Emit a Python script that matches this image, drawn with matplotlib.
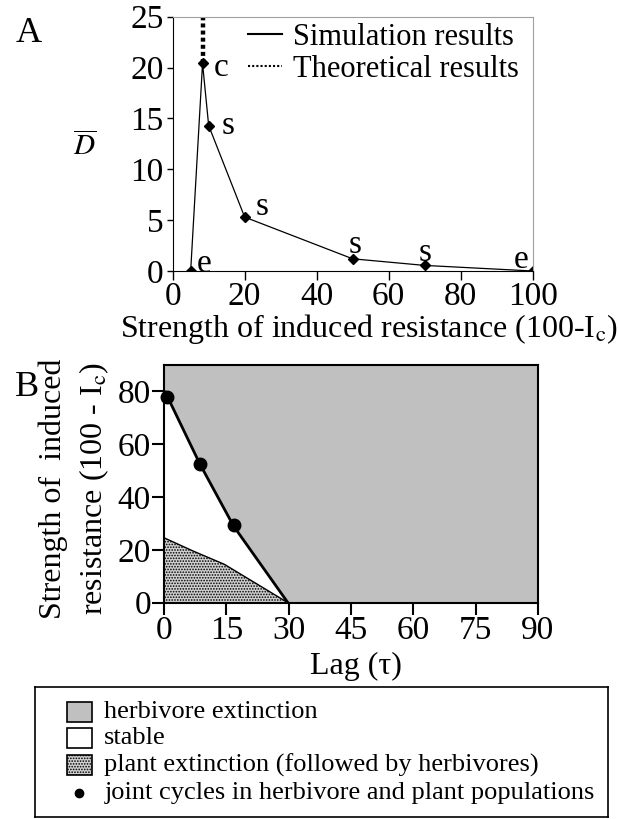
import matplotlib
matplotlib.use("Agg")
import matplotlib.pyplot as plt
from matplotlib.patches import Rectangle
from matplotlib.lines import Line2D

plt.rcParams["font.family"] = ["Liberation Serif", "DejaVu Serif"]
plt.rcParams["mathtext.fontset"] = "stix"
plt.rcParams["hatch.linewidth"] = 0.8

# Panel A: mean D vs strength of induced resistance
strength = [5, 8.3, 10, 20, 50, 70, 100]
d_mean = [0, 20.4, 14.3, 5.3, 1.2, 0.55, 0]
point_labels = ["e", "c", "s", "s", "s", "s", "e"]
theory_x = [8.3, 8.3]
theory_y = [20.4, 25]

# Panel B: region boundaries in (lag, strength) space
upper_lag = [0, 0.8, 8.6, 16.7, 29.8]
upper_str = [80, 77.8, 52.4, 29, 0]
lower_lag = [0, 7, 14.5, 29.8]
lower_str = [24.5, 19.5, 14.5, 0]
cycle_lag = [0.75, 8.6, 16.7]
cycle_str = [77.8, 52.4, 29.3]

legend_labels = ["herbivore extinction", "stable",
                 "plant extinction (followed by herbivores)",
                 "joint cycles in herbivore and plant populations"]

GRAY = "#c0c0c0"

fig = plt.figure(figsize=(6.18, 8.19), dpi=100)

# ---------- A ----------
ax = fig.add_axes([0.2794, 0.6691, 0.5825, 0.3105])
ax.plot(strength, d_mean, color="black", lw=0.9, marker="D", ms=5)
ax.plot(theory_x, theory_y, color="black", lw=3.2, ls=(0, (0.9, 0.7)))
# label offsets (points) and alignment for each point label
lab_offsets = [(4.5, 5.5, "left"), (8, -3, "left"), (9.5, 0, "left"),
               (8, 7.5, "left"), (2, 10, "center"), (0, 9, "center"),
               (-8, 8, "center")]
for x, y, lab, (dx, dy, ha) in zip(strength, d_mean, point_labels, lab_offsets):
    ax.annotate(lab, (x, y), xytext=(dx, dy), textcoords="offset points",
                fontsize=24, ha=ha, va="center")
ax.set_xlim(0, 100)
ax.set_ylim(0, 25)
ax.set_xticks(range(0, 101, 20))
ax.set_yticks(range(0, 26, 5))
ax.tick_params(labelsize=24, width=1, direction="out")
ax.tick_params(axis="y", length=4.5, pad=2)
ax.tick_params(axis="x", length=6.5, pad=1)
ax.spines["top"].set_color("#a0a0a0")
ax.spines["right"].set_color("#a0a0a0")
ax.set_xlabel("Strength of induced resistance (100-I$_\\mathrm{c}$)", fontsize=23,
              va="center")
ax.xaxis.set_label_coords(0.544, -0.23)
ax.set_ylabel("$\\overline{D}$", fontsize=21, rotation=0, va="center", ha="center")
ax.yaxis.set_label_coords(-0.2436, 0.4876)
leg_handles = [Line2D([], [], color="black", lw=1.5),
               Line2D([], [], color="black", lw=1.5, ls=(0, (1, 1)))]
ax.legend(leg_handles, ["Simulation results", "Theoretical results"],
          loc="upper left", bbox_to_anchor=(0.2097, 0.975), frameon=False,
          fontsize=22, handlelength=1.1, handletextpad=0.37,
          borderpad=0, borderaxespad=0, labelspacing=0.08)
fig.text(0.047, 0.959, "A", fontsize=26, va="center", ha="center")

# ---------- B ----------
bx = fig.add_axes([0.2657, 0.2641, 0.6045, 0.2908])
bx.set_facecolor(GRAY)
bx.fill_between(upper_lag, upper_str, 0, facecolor="white", edgecolor="none")
bx.fill_between(lower_lag, lower_str, 0, facecolor="#d0d0d0", edgecolor="black",
                hatch="......", lw=0)
bx.plot(upper_lag, upper_str, color="black", lw=2)
bx.plot(lower_lag, lower_str, color="black", lw=1)
bx.plot(cycle_lag, cycle_str, "o", color="black", ms=9, clip_on=False)
bx.set_xlim(0, 90)
bx.set_ylim(0, 90)
bx.set_xticks(range(0, 91, 15))
bx.set_yticks(range(0, 81, 20))
bx.tick_params(labelsize=24, length=8.5, width=1.5, direction="out", pad=1)
for s in bx.spines.values():
    s.set_linewidth(1.5)
bx.set_xlabel("Lag (τ)", fontsize=23, va="center")
bx.xaxis.set_label_coords(0.513, -0.266)
bx.set_ylabel("Strength of  induced\nresistance (100 - I$_\\mathrm{c}$)",
              fontsize=23, linespacing=1.35, va="center")
bx.yaxis.set_label_coords(-0.2394, 0.48)
fig.text(0.043, 0.527, "B", fontsize=26, va="center", ha="center")

# ---------- legend box ----------
lx = fig.add_axes([0.056, 0.0028, 0.928, 0.1588])
lx.set_xlim(0, 573.4)
lx.set_ylim(130, 0)
lx.set_xticks([])
lx.set_yticks([])
for s in lx.spines.values():
    s.set_linewidth(1.2)
row_y = [25, 51.3, 78.3, 106.3]
styles = [dict(facecolor=GRAY), dict(facecolor="white"),
          dict(facecolor="#d0d0d0", hatch="......")]
for yy, st in zip(row_y[:3], styles):
    lx.add_patch(Rectangle((32.7, yy - 10), 25, 20, edgecolor="black", lw=1.2, **st))
lx.plot([44], [row_y[3]], "o", color="black", ms=6)
for yy, lab in zip(row_y, legend_labels):
    lx.text(69.7, yy, lab, fontsize=19, va="center", ha="left")

fig.savefig("out.png", dpi=100)
